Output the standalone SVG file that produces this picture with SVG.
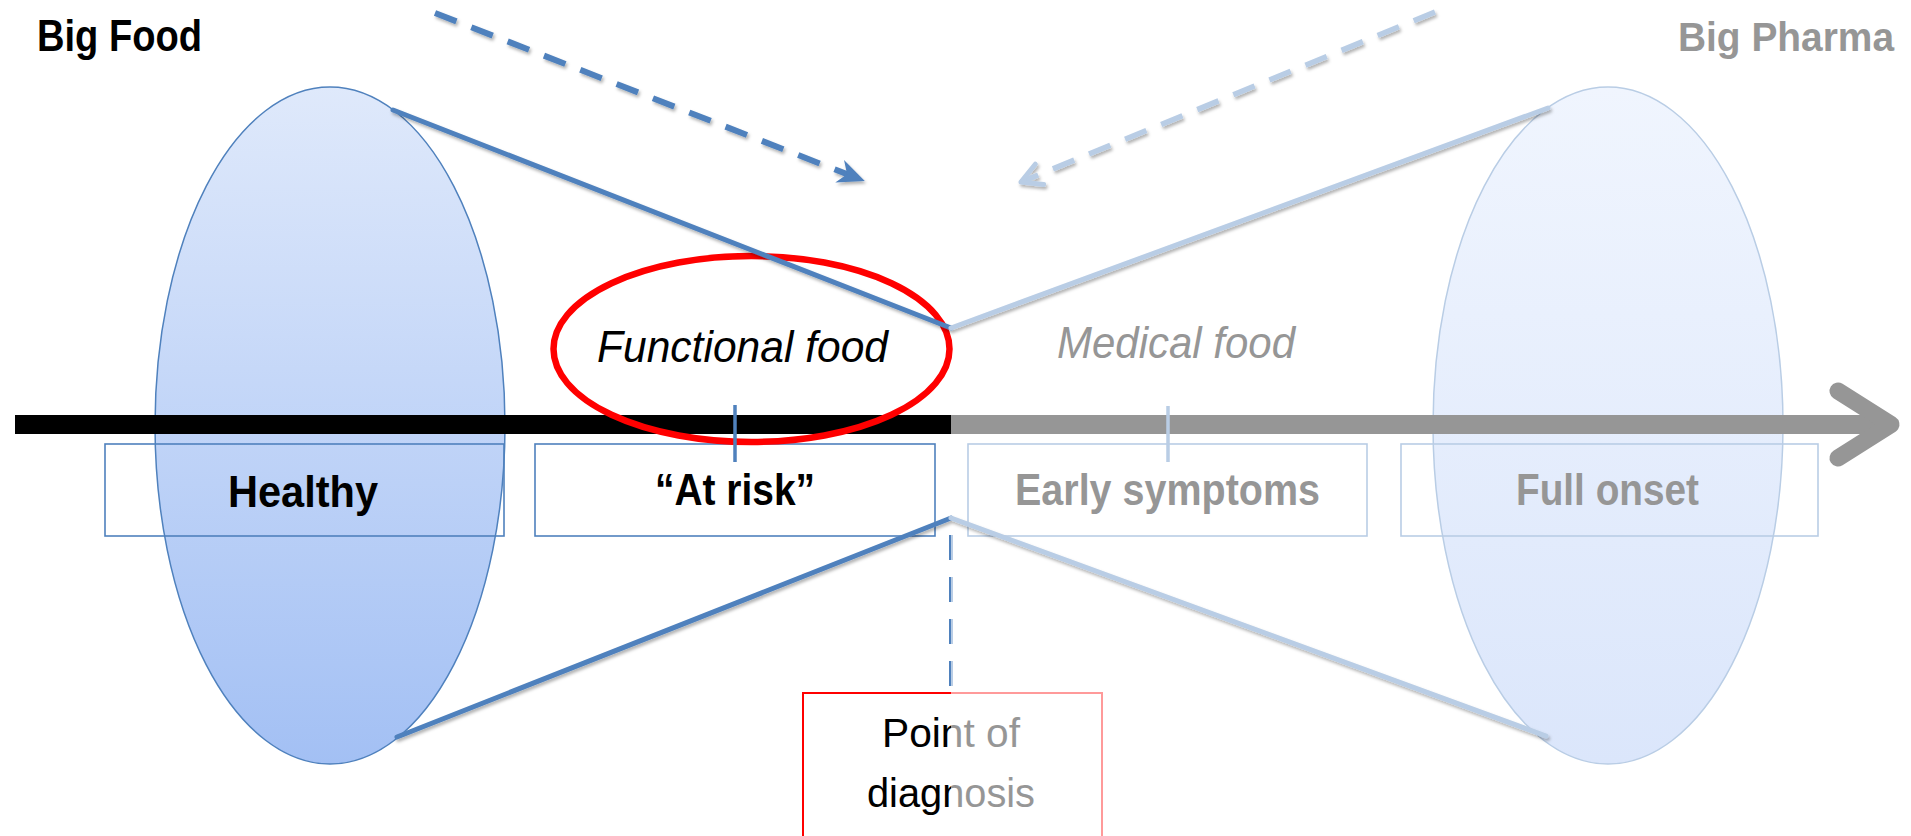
<svg xmlns="http://www.w3.org/2000/svg" width="1911" height="836" viewBox="0 0 1911 836">
  <style>
    .lbl { font-family: "Liberation Sans", Arial, sans-serif; font-weight: bold; font-size: 45px; }
    .ital { font-family: "Liberation Sans", Arial, sans-serif; font-style: italic; font-size: 45px; }
    .reg { font-family: "Liberation Sans", Arial, sans-serif; font-size: 40px; }
    .dark { fill: #000000; }
    .faded { fill: #969696; }
    .boxD { fill: none; stroke: #4f81bd; stroke-width: 1.6; }
    .boxL { fill: none; stroke: #b9cde5; stroke-width: 1.6; }
    .lineD { stroke: #4f81bd; stroke-width: 5; fill: none; stroke-linecap: round; }
    .lineL { stroke: #b9cde5; stroke-width: 5; fill: none; stroke-linecap: round; }
  </style>
  <defs>
    <linearGradient id="gLeft" x1="0" y1="0" x2="0" y2="1">
      <stop offset="0" stop-color="#dfe9fb"/>
      <stop offset="1" stop-color="#a3c0f4"/>
    </linearGradient>
    <linearGradient id="gRight" x1="0" y1="0" x2="0" y2="1">
      <stop offset="0" stop-color="#f0f5fe"/>
      <stop offset="1" stop-color="#dbe6fb"/>
    </linearGradient>
    <linearGradient id="splitBlue" gradientUnits="userSpaceOnUse" x1="0" y1="0" x2="1911" y2="0">
      <stop offset="0.4976" stop-color="#4f81bd"/>
      <stop offset="0.4976" stop-color="#b9cde5"/>
    </linearGradient>
    <linearGradient id="splitRed" gradientUnits="userSpaceOnUse" x1="0" y1="0" x2="1911" y2="0">
      <stop offset="0.4976" stop-color="#ff0000"/>
      <stop offset="0.4976" stop-color="#ff9a9a"/>
    </linearGradient>
    <linearGradient id="splitText" gradientUnits="userSpaceOnUse" x1="0" y1="0" x2="1911" y2="0">
      <stop offset="0.4976" stop-color="#000000"/>
      <stop offset="0.4976" stop-color="#969696"/>
    </linearGradient>
    <filter id="shadow" filterUnits="userSpaceOnUse" x="0" y="0" width="1911" height="836">
      <feDropShadow dx="1.5" dy="2.5" stdDeviation="1.6" flood-color="#000000" flood-opacity="0.3"/>
    </filter>
    <marker id="headDark" markerUnits="userSpaceOnUse" orient="auto" overflow="visible" refX="0" refY="0" markerWidth="1" markerHeight="1">
      <path d="M3,0 L-24,-12 L-16,0 L-24,12 Z" fill="#4f81bd"/>
    </marker>
    <marker id="headLight" markerUnits="userSpaceOnUse" orient="auto" overflow="visible" refX="0" refY="0" markerWidth="1" markerHeight="1">
      <path d="M-20,-11 L0,0 L-20,11" fill="none" stroke="#b9cde5" stroke-width="5" stroke-linecap="round" stroke-linejoin="round"/>
    </marker>
  </defs>

  <rect x="0" y="0" width="1911" height="836" fill="#ffffff"/>

  <g id="node-left-ellipse">
    <ellipse cx="330" cy="425.5" rx="175" ry="338.5" fill="url(#gLeft)" stroke="#4f81bd" stroke-width="1.5"/>
  </g>
  <g id="node-right-ellipse">
    <ellipse cx="1608" cy="425.5" rx="175" ry="338.5" fill="url(#gRight)" stroke="#b9cde5" stroke-width="1.5"/>
  </g>

  <g id="connectors">
    <line x1="15" y1="424.5" x2="951" y2="424.5" stroke="#000000" stroke-width="19"/>
    <line x1="951" y1="424.5" x2="1888" y2="424.5" stroke="#969696" stroke-width="19"/>
    <polyline points="1838,391 1891,424.5 1838,458" fill="none" stroke="#969696" stroke-width="17" stroke-linecap="round" stroke-linejoin="round"/>
  </g>

  <g id="node-healthy">
    <rect class="boxD" x="105" y="444" width="399" height="92"/>
    <text class="lbl dark" x="228" y="507" textLength="150" lengthAdjust="spacingAndGlyphs">Healthy</text>
  </g>
  <g id="node-at-risk">
    <rect class="boxD" x="535" y="444" width="400" height="92"/>
    <text class="lbl dark" x="655" y="505" textLength="160" lengthAdjust="spacingAndGlyphs">“At risk”</text>
  </g>
  <g id="node-early-symptoms">
    <rect class="boxL" x="968" y="444" width="399" height="92"/>
    <text class="lbl faded" x="1015" y="505" textLength="305" lengthAdjust="spacingAndGlyphs">Early symptoms</text>
  </g>
  <g id="node-full-onset">
    <rect class="boxL" x="1401" y="444" width="417" height="92"/>
    <text class="lbl faded" x="1516" y="505" textLength="183" lengthAdjust="spacingAndGlyphs">Full onset</text>
  </g>

  <g id="node-functional-food">
    <ellipse cx="751.5" cy="349" rx="198" ry="93" fill="none" stroke="#ff0000" stroke-width="6.5"/>
    <text class="ital dark" x="597" y="362" textLength="291" lengthAdjust="spacingAndGlyphs">Functional food</text>
  </g>
  <g id="node-medical-food">
    <text class="ital faded" x="1057" y="358" textLength="238" lengthAdjust="spacingAndGlyphs">Medical food</text>
  </g>

  <g id="connectors-lines">
    <g filter="url(#shadow)">
      <line class="lineD" x1="393" y1="110" x2="951" y2="328"/>
      <line class="lineD" x1="397" y1="737" x2="951" y2="518"/>
      <line class="lineL" x1="951" y1="328" x2="1548" y2="108"/>
      <line class="lineL" x1="951" y1="518" x2="1546" y2="736"/>
      <line x1="435" y1="13" x2="862" y2="180" stroke="#4f81bd" stroke-width="6" stroke-dasharray="23 16" marker-end="url(#headDark)"/>
      <line x1="1435" y1="12" x2="1021" y2="182" stroke="#b9cde5" stroke-width="5.5" stroke-dasharray="23 16" marker-end="url(#headLight)"/>
    </g>
    <line x1="735" y1="405" x2="735" y2="462" stroke="#4f81bd" stroke-width="3.5"/>
    <line x1="1168" y1="406" x2="1168" y2="462" stroke="#b9cde5" stroke-width="3.5"/>
    <line x1="951" y1="535" x2="951" y2="693" stroke="url(#splitBlue)" stroke-width="4" stroke-dasharray="25 17"/>
  </g>

  <g id="node-big-food">
    <text class="lbl dark" x="37" y="51" textLength="165" lengthAdjust="spacingAndGlyphs">Big Food</text>
  </g>
  <g id="node-big-pharma">
    <text class="lbl faded" x="1678" y="51" font-size="41" textLength="216" lengthAdjust="spacingAndGlyphs" style="font-size:41px">Big Pharma</text>
  </g>

  <g id="node-point-of-diagnosis">
    <rect x="803" y="693" width="299" height="170" fill="none" stroke="url(#splitRed)" stroke-width="2"/>
    <text class="reg" x="882" y="747" fill="url(#splitText)" textLength="138" lengthAdjust="spacingAndGlyphs">Point of</text>
    <text class="reg" x="867" y="807" fill="url(#splitText)" textLength="168" lengthAdjust="spacingAndGlyphs">diagnosis</text>
  </g>
</svg>
